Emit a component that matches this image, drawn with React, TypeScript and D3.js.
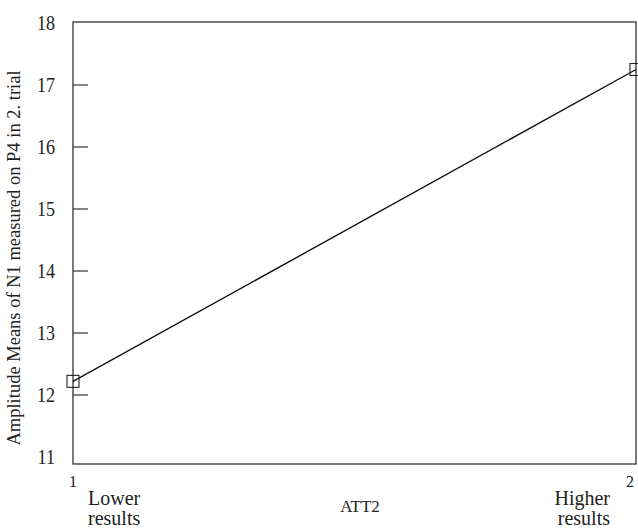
import React, { useEffect, useRef } from 'react';
import * as d3 from 'd3';

// levels of ATT2 and the estimated marginal means
const levels = [1, 2];
const levelNames = [['Lower', 'results'], ['Higher', 'results']];
const means = [12.22, 17.25];
const yTicks = [11, 12, 13, 14, 15, 16, 17, 18];

export default function App() {
  const ref = useRef<SVGSVGElement>(null);

  useEffect(() => {
    const svg = d3.select(ref.current);
    svg.selectAll('*').remove();

    const left = 73, right = 636, top = 22, bottom = 464;
    const font = '"Liberation Serif", "Times New Roman", serif';

    const x = d3.scaleLinear().domain([1, 2]).range([left, right]);
    const y = d3.scaleLinear().domain([11, 18]).range([457, 23]);

    // frame
    svg.append('rect')
      .attr('x', left).attr('y', top)
      .attr('width', right - left).attr('height', bottom - top)
      .attr('fill', 'none').attr('stroke', '#333').attr('stroke-width', 1.3);

    // y ticks, drawn inward
    const gy = svg.append('g');
    yTicks.forEach(t => {
      if (t > 11 && t < 18) {
        gy.append('line')
          .attr('x1', left).attr('x2', left + 15)
          .attr('y1', y(t)).attr('y2', y(t))
          .attr('stroke', '#333').attr('stroke-width', 1.2);
      }
      gy.append('text')
        .attr('transform', `translate(55, ${y(t) + 6.5}) scale(0.95, 1.05)`)
        .attr('text-anchor', 'end')
        .attr('font-family', font).attr('font-size', 19)
        .attr('fill', '#222')
        .text(t);
    });

    // x tick labels
    levels.forEach((l, i) => {
      svg.append('text')
        .attr('x', i === 0 ? x(l) : x(l) - 6).attr('y', 487)
        .attr('text-anchor', 'middle')
        .attr('font-family', font).attr('font-size', 16).attr('fill', '#222')
        .text(l);
      const t = svg.append('text')
        .attr('font-family', font).attr('font-size', 20).attr('fill', '#222')
        .attr('text-anchor', i === 0 ? 'start' : 'end');
      levelNames[i].forEach((s, j) => {
        t.append('tspan')
          .attr('x', i === 0 ? x(l) + 15 : x(l) - 26)
          .attr('y', 505 + j * 20)
          .text(s);
      });
    });

    svg.append('text')
      .attr('x', 360).attr('y', 512)
      .attr('text-anchor', 'middle')
      .attr('font-family', font).attr('font-size', 17).attr('fill', '#222')
      .text('ATT2');

    svg.append('text')
      .attr('transform', 'translate(20, 258) rotate(-90)')
      .attr('text-anchor', 'middle')
      .attr('font-family', font).attr('font-size', 18.5).attr('fill', '#222')
      .text('Amplitude Means of N1 measured on P4 in 2. trial');

    // line and markers
    const pts = levels.map((l, i) => [x(l), y(means[i])] as [number, number]);
    svg.append('path')
      .attr('d', d3.line()(pts))
      .attr('fill', 'none').attr('stroke', '#111').attr('stroke-width', 1.4);

    svg.selectAll('rect.m')
      .data(pts)
      .enter()
      .append('rect')
      .attr('class', 'm')
      .attr('x', d => d[0] - 6).attr('y', d => d[1] - 6)
      .attr('width', 12).attr('height', 12)
      .attr('fill', 'none').attr('stroke', '#222').attr('stroke-width', 1.1);
  }, []);

  return (
    <svg ref={ref} width={638} height={530}
      style={{ position: 'absolute', left: 0, top: 0, background: '#fff' }} />
  );
}
